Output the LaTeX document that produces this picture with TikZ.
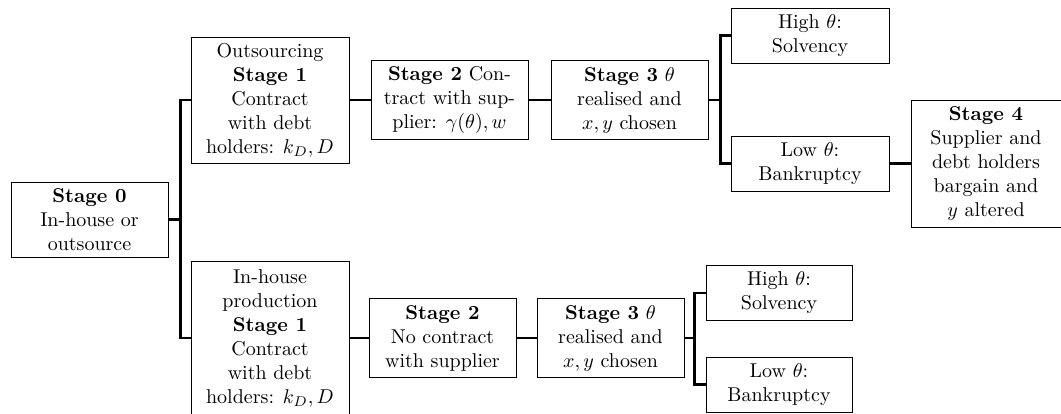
\documentclass[tikz,border=0pt]{standalone}
\usetikzlibrary{calc}
\begin{document}
\begin{tikzpicture}[x=1pt,y=1pt,
  stagebox/.style={draw, line width=0.5pt, align=center, inner sep=2pt, font=\normalsize},
  link/.style={line width=1.1pt}]
\useasboundingbox (0,0) rectangle (530.5,-206.5);
\node[stagebox, minimum width=78.5pt, minimum height=37.5pt] (s0) at (44.75,-109.75) {\textbf{Stage 0}\\In-house or\\outsource};
\node[stagebox, minimum width=79pt, minimum height=63pt] (o1) at (135,-50) {Outsourcing\\\textbf{Stage 1}\\Contract\\with debt\\holders: $k_D, D$};
\node[stagebox, minimum width=79pt, minimum height=76.5pt] (i1) at (135,-169) {In-house\\production\\\textbf{Stage 1}\\Contract\\with debt\\holders: $k_D, D$};
\node[stagebox, minimum width=78.5pt, minimum height=39.5pt] (o2) at (224.75,-50) {\textbf{Stage 2} Con-\\tract with sup-\\plier: $\gamma(\theta), w$};
\node[stagebox, minimum width=78.5pt, minimum height=39.5pt] (o3) at (314.75,-50) {\textbf{Stage 3} $\theta$\\realised and\\$x, y$ chosen};
\node[stagebox, minimum width=79pt, minimum height=27.5pt] (oh) at (405,-17.75) {High $\theta$:\\Solvency};
\node[stagebox, minimum width=79pt, minimum height=27.5pt] (ol) at (405,-81.75) {Low $\theta$:\\Bankruptcy};
\node[stagebox, minimum width=75pt, minimum height=63.5pt] (o4) at (493,-81.75) {\textbf{Stage 4}\\Supplier and\\debt holders\\bargain and\\$y$ altered};
\node[stagebox, minimum width=73.5pt, minimum height=39.5pt] (i2) at (221.25,-169) {\textbf{Stage 2}\\No contract\\with supplier};
\node[stagebox, minimum width=73.5pt, minimum height=39.5pt] (i3) at (305.25,-169) {\textbf{Stage 3} $\theta$\\realised and\\$x, y$ chosen};
\node[stagebox, minimum width=73pt, minimum height=27.5pt] (ih) at (389.5,-146.5) {High $\theta$:\\Solvency};
\node[stagebox, minimum width=73pt, minimum height=27.5pt] (il) at (389.5,-192.25) {Low $\theta$:\\Bankruptcy};
% connectors
\coordinate (j0) at ($(s0.east)+(6,0)$);
\draw[link] (s0.east) -- (j0) |- (o1.west);
\draw[link] (j0) |- (i1.west);
\draw[link] (o1.east) -- (o2.west);
\draw[link] (o2.east) -- (o3.west);
\coordinate (j1) at ($(o3.east)+(6,0)$);
\draw[link] (o3.east) -- (j1) |- (oh.west);
\draw[link] (j1) |- (ol.west);
\draw[link] (ol.east) -- (o4.west);
\draw[link] (i1.east) -- (i2.west);
\draw[link] (i2.east) -- (i3.west);
\coordinate (j2) at ($(i3.east)+(5,0)$);
\draw[link] (i3.east) -- (j2) |- (ih.west);
\draw[link] (j2) |- (il.west);
\end{tikzpicture}
\end{document}
